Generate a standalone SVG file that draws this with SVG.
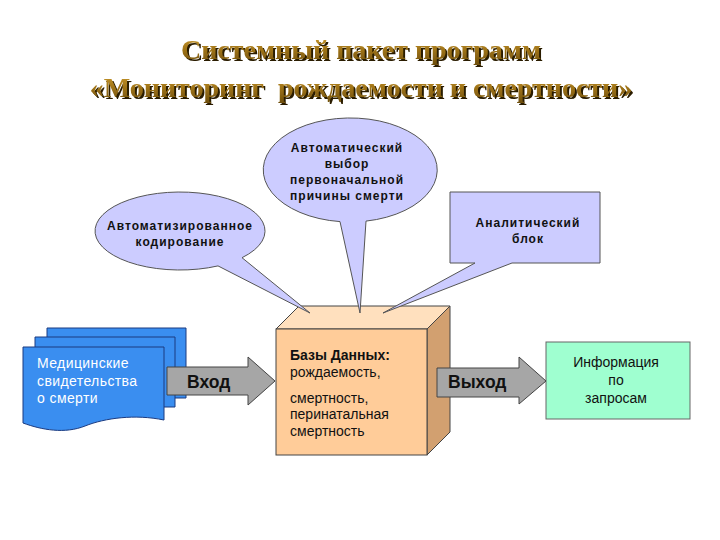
<svg xmlns="http://www.w3.org/2000/svg" width="720" height="540" viewBox="0 0 720 540">
<defs>
<linearGradient id="gold" x1="0" y1="0" x2="0" y2="1">
<stop offset="0" stop-color="#D0A030"/>
<stop offset="0.5" stop-color="#A07418"/>
<stop offset="1" stop-color="#6E4E0C"/>
</linearGradient>
<filter id="shadow" x="-5%" y="-20%" width="110%" height="150%">
<feDropShadow dx="2" dy="2" stdDeviation="0.6" flood-color="#2a1a05" flood-opacity="1"/>
</filter>
</defs>
<style>
.title{font-family:"Liberation Serif",serif;font-weight:bold;font-size:28px;text-anchor:middle;fill:url(#gold);filter:url(#shadow)}
.call{fill:#CCCCFF;stroke:#555;stroke-width:1}
.ct{font-family:"Liberation Sans",Arial,sans-serif;font-weight:bold;font-size:12px;letter-spacing:1px;fill:#111;text-anchor:middle}
.t{font-family:"Liberation Sans",Arial,sans-serif;font-size:14px;fill:#111}
.dt{font-family:"Liberation Sans",Arial,sans-serif;font-size:14px;letter-spacing:0.4px;fill:#fff}
.doc{fill:#3A8EF0;stroke:#1a3a80;stroke-width:1}
.arr{fill:#A6A6A6;stroke:#444;stroke-width:1}
.at{font-family:"Liberation Sans",Arial,sans-serif;font-weight:bold;font-size:17.5px;fill:#111}
</style>
<rect width="720" height="540" fill="#fff"/>
<g id="title">
<text class="title" x="361" y="59">Системный пакет программ</text>
<text class="title" x="361" y="97" xml:space="preserve">«Мониторинг  рождаемости и смертности»</text>
</g>
<g id="cube">
<polygon points="276,329 299,306 450,306 427,329" fill="#FFE0BE" stroke="#444"/>
<polygon points="427,329 450,306 450,432 427,455" fill="#D2A070" stroke="#444"/>
<rect x="276" y="329" width="151" height="126" fill="#FFCC99" stroke="#444"/>
<text class="t" x="290" y="360" font-weight="bold">Базы Данных:</text>
<text class="t" x="290" y="377">рождаемость,</text>
<text class="t" x="290" y="403">смертность,</text>
<text class="t" x="290" y="419">перинатальная</text>
<text class="t" x="290" y="436">смертность</text>
</g>
<g id="callout-coding">
<path class="call" d="M242,257.7 A85,39 0 1 0 218,265.9 L310,313 Z"/>
<text class="ct" x="180" y="230">Автоматизированное</text>
<text class="ct" x="180" y="246">кодирование</text>
</g>
<g id="callout-cause">
<path class="call" d="M366,221.1 A87,52 0 1 0 340,221.6 L360,313 Z"/>
<text class="ct" x="347" y="152">Автоматический</text>
<text class="ct" x="347" y="168">выбор</text>
<text class="ct" x="347" y="184">первоначальной</text>
<text class="ct" x="347" y="200">причины смерти</text>
</g>
<g id="callout-analytic">
<path class="call" d="M450,192 H600 V263 H512 L383,313 L475,263 H450 Z"/>
<text class="ct" x="528" y="227">Аналитический</text>
<text class="ct" x="528" y="243">блок</text>
</g>
<g id="documents">
<path class="doc" d="M47,328 H186 V398 H47 Z"/>
<path class="doc" d="M35,337 H175 V407 H35 Z"/>
<path class="doc" d="M23,347 H164 V420 C135,414 105,418 85,426 C65,434 42,430 23,423 Z"/>
<text class="dt" x="37" y="368">Медицинские</text>
<text class="dt" x="37" y="386">свидетельства</text>
<text class="dt" x="37" y="403">о смерти</text>
</g>
<g id="info">
<rect x="546" y="342" width="144" height="77" fill="#9FFFD0" stroke="#666"/>
<text class="t" x="616" y="367" text-anchor="middle">Информация</text>
<text class="t" x="616" y="385" text-anchor="middle">по</text>
<text class="t" x="616" y="403" text-anchor="middle">запросам</text>
</g>
<g id="connectors">
<polygon class="arr" points="167,367 248,367 248,357 275,381 248,405 248,395 167,395"/>
<text class="at" x="187" y="388">Вход</text>
<polygon class="arr" points="437,368 519,368 519,357 546,381 519,404 519,397 437,397"/>
<text class="at" x="448" y="388">Выход</text>
</g>
</svg>
